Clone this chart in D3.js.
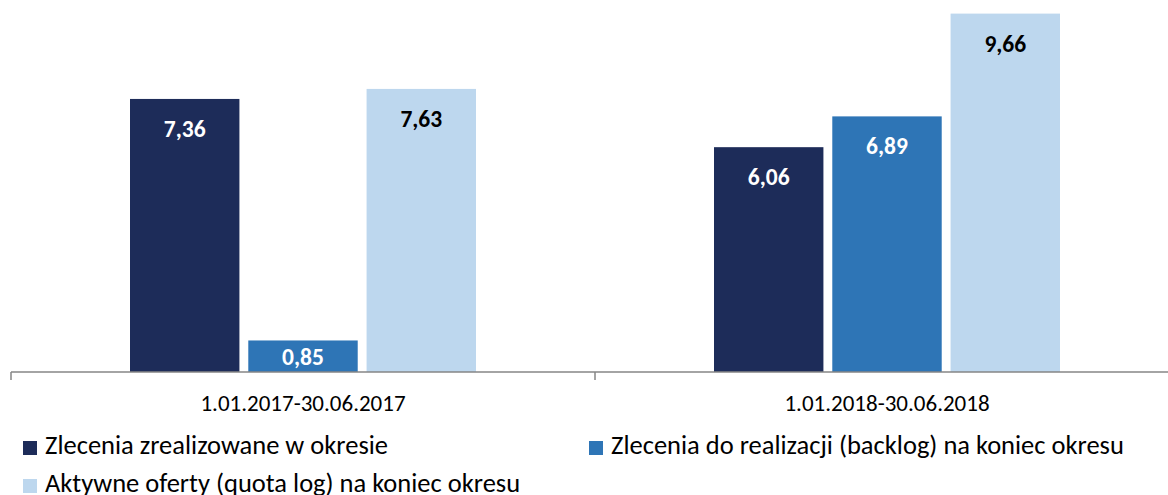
<!DOCTYPE html>
<html>
<head>
<meta charset="utf-8">
<script src="https://cdn.jsdelivr.net/npm/d3@7"></script>
<style>
  html, body { margin: 0; padding: 0; background: #fff; }
  svg { display: block; font-family: Carlito, Calibri, Lato, sans-serif; }
</style>
</head>
<body>
<svg id="chart" width="1168" height="495"></svg>
<script>
const categories = ["1.01.2017-30.06.2017", "1.01.2018-30.06.2018"];
const seriesNames = [
  "Zlecenia zrealizowane w okresie",
  "Zlecenia do realizacji (backlog) na koniec okresu",
  "Aktywne oferty (quota log) na koniec okresu"
];
const zrealizowane = [7.36, 6.06];
const backlog = [0.85, 6.89];
const aktywne = [7.63, 9.66];
const valueLabels = [["7,36", "6,06"], ["0,85", "6,89"], ["7,63", "9,66"]];

const colors = ["#1d2c59", "#2e75b6", "#bdd7ee"];
const labelColors = ["#ffffff", "#ffffff", "#000000"];
const seriesValues = [zrealizowane, backlog, aktywne];

const svg = d3.select("#chart");
const baseY = 372;

const x0 = d3.scaleBand().domain(categories).range([11, 1179]).padding(0);
const groupWidth = 346;
const x1 = d3.scaleBand().domain(d3.range(3)).range([0, groupWidth]).paddingInner(0.075);
const y = d3.scaleLinear().domain([0, 10]).range([baseY, 1]);

const data = [];
categories.forEach((c, ci) => {
  seriesValues.forEach((vals, si) => {
    data.push({ c, ci, si, v: vals[ci], label: valueLabels[si][ci] });
  });
});

const gx = c => x0(c) + x0.bandwidth() / 2 - groupWidth / 2;

svg.append("g").selectAll("rect").data(data).join("rect")
  .attr("x", d => gx(d.c) + x1(d.si))
  .attr("y", d => y(d.v))
  .attr("width", x1.bandwidth())
  .attr("height", d => y(0) - y(d.v))
  .attr("fill", d => colors[d.si]);

svg.append("g").selectAll("text").data(data).join("text")
  .attr("x", d => gx(d.c) + x1(d.si) + x1.bandwidth() / 2)
  .attr("y", d => Math.min(y(d.v) + 38, y(0) - 7))
  .attr("text-anchor", "middle")
  .attr("font-size", 23.5)
  .attr("font-weight", "bold")
  .attr("fill", d => labelColors[d.si])
  .text(d => d.label);

// axis
const ax = svg.append("g").attr("transform", `translate(0,${baseY})`);
ax.append("line").attr("x1", x0.range()[0]).attr("x2", x0.range()[1])
  .attr("stroke", "#868686").attr("stroke-width", 1.5);
const tickPos = [x0.range()[0]].concat(categories.map(c => x0(c) + x0.bandwidth()));
ax.selectAll("line.tick").data(tickPos).join("line").attr("class", "tick")
  .attr("x1", d => d).attr("x2", d => d).attr("y1", 0).attr("y2", 8)
  .attr("stroke", "#868686").attr("stroke-width", 1.5);
ax.selectAll("text.cat").data(categories).join("text").attr("class", "cat")
  .attr("x", c => x0(c) + x0.bandwidth() / 2)
  .attr("y", 39)
  .attr("text-anchor", "middle")
  .attr("font-size", 23)
  .attr("fill", "#000")
  .text(c => c);

// legend
const legendItems = [
  { si: 0, x: 23, y: 441 },
  { si: 1, x: 589, y: 441 },
  { si: 2, x: 23, y: 479 }
];
const lg = svg.append("g").selectAll("g").data(legendItems).join("g")
  .attr("transform", d => `translate(${d.x},${d.y})`);
lg.append("rect").attr("width", 14).attr("height", 14).attr("fill", d => colors[d.si]);
lg.append("text").attr("x", 22).attr("y", 13)
  .attr("font-size", 26.5).attr("fill", "#000")
  .text(d => seriesNames[d.si]);
</script>
</body>
</html>
